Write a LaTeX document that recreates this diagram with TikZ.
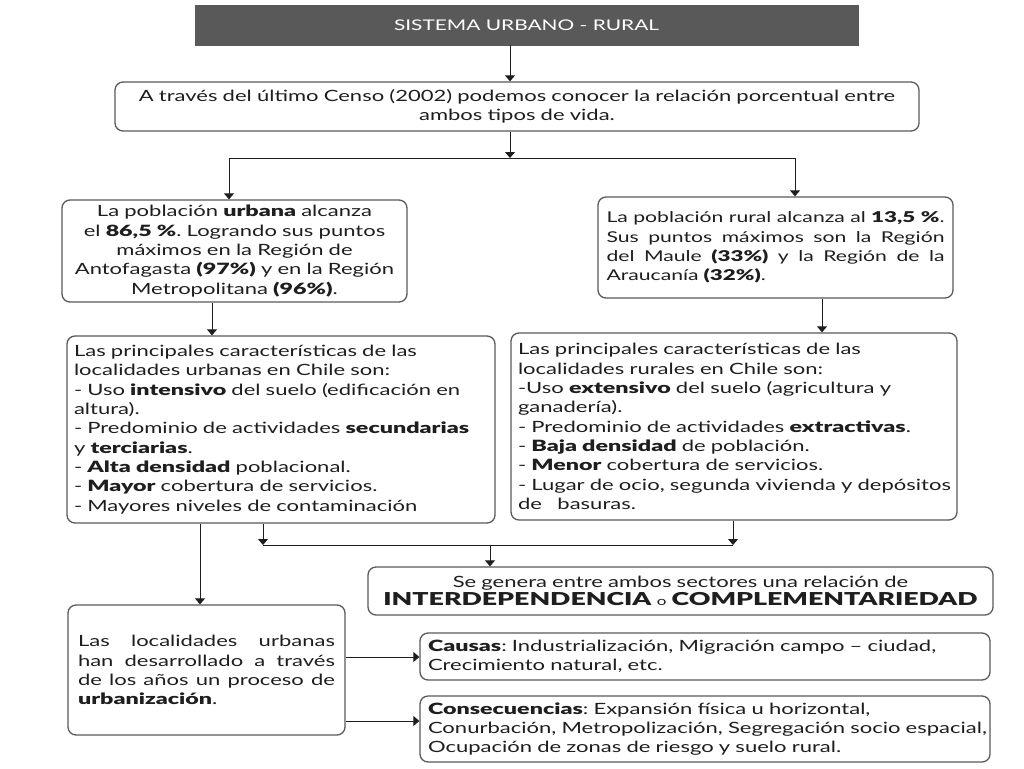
\documentclass[tikz,border=0pt]{standalone}
\usepackage{fontspec}
\setmainfont{Lato}[BoldFont={Lato Black}, UprightFeatures={FakeStretch=1.42}, BoldFeatures={FakeStretch=1.5}]
\usetikzlibrary{arrows.meta}
\frenchspacing
\definecolor{txt}{HTML}{1E1E1E}
\definecolor{bord}{HTML}{5A5A5A}
\definecolor{titlefill}{HTML}{595959}
\newcommand\jl[2]{\makebox[#1][s]{\spaceskip=0.3em plus 1fil\relax #2}}
\tikzset{
  box/.style={draw=bord, line width=1.3pt, rounded corners=8pt, fill=white, inner sep=0pt, text=txt,
    font=\fontsize{15.5}{19.3}\selectfont},
  titlebox/.style={draw=titlefill, fill=titlefill, text=white, inner sep=0pt,
    font=\fontsize{14.7}{18}\selectfont},
  conn/.style={draw=txt, line width=1pt},
  arr/.style={conn, -{Triangle[width=10pt,length=6pt]}}
}
\begin{document}
\begin{tikzpicture}[x=1pt,y=-1pt]
\useasboundingbox (0,0) rectangle (1024,768);
\fill[white] (0,0) rectangle (1024,768);

\node[titlebox, minimum width=663pt, minimum height=40pt] (title) at (526.5,25) {SISTEMA URBANO - RURAL};

\node[box, minimum width=804pt, minimum height=49pt, text width=790pt, align=center] (censo) at (517,106.5)
 {A través del último Censo (2002) podemos conocer la relación porcentual entre\\ ambos tipos de vida.};

\node[box, minimum width=345pt, minimum height=102pt, text width=335pt, align=center] (urb) at (234.5,251)
 {La población \textbf{urbana} alcanza\\ el \textbf{86,5 \%}. Logrando sus puntos\\ máximos en la Región de\\ Antofagasta \textbf{(97\%)} y en la Región\\ Metropolitana \textbf{(96\%)}.};

\node[box, minimum width=355pt, minimum height=101pt, text width=338pt, align=left,
      font=\fontsize{14.9}{19.3}\selectfont] (rur) at (775.5,247.5)
 {\jl{338pt}{La población rural alcanza al \textbf{13,5 \%}.}\\ \jl{338pt}{Sus puntos máximos son la Región}\\ \jl{338pt}{del Maule \textbf{(33\%)} y la Región de la}\\ Araucanía \textbf{(32\%)}.};

\node[box, minimum width=428pt, minimum height=187pt, text width=414pt, align=left] (curb) at (281,429.5)
 {Las principales características de las\\
  localidades urbanas en Chile son:\\
  - Uso \textbf{intensivo} del suelo (edificación en\\
  altura).\\
  - Predominio de actividades \textbf{secundarias}\\
  y \textbf{terciarias}.\\
  - \textbf{Alta densidad} poblacional.\\
  - \textbf{Mayor} cobertura de servicios.\\
  - Mayores niveles de contaminación};

\node[box, minimum width=446pt, minimum height=187pt, text width=432pt, align=left] (crur) at (734,426.5)
 {Las principales características de las\\
  localidades rurales en Chile son:\\
  -Uso \textbf{extensivo} del suelo (agricultura y\\
  ganadería).\\
  - Predominio de actividades \textbf{extractivas}.\\
  - \textbf{Baja densidad} de población.\\
  - \textbf{Menor} cobertura de servicios.\\
  \mbox{- Lugar de ocio, segunda vivienda y depósitos}\\
  de\ \ \ basuras.};

\node[box, minimum width=625pt, minimum height=48pt, text width=615pt, align=center] (inter) at (680.5,591)
 {Se genera entre ambos sectores una relación de\\[-1pt]
  {\fontsize{17.8}{20}\selectfont\textbf{INTERDEPENDENCIA} {\fontsize{12}{14}\selectfont o} \textbf{COMPLEMENTARIEDAD}}};

\node[box, minimum width=277pt, minimum height=130pt, text width=257pt, align=left] (proc) at (206.5,670)
 {\jl{257pt}{Las localidades urbanas}\\ \jl{257pt}{han desarrollado a través}\\ \jl{257pt}{de los años un proceso de}\\ \textbf{urbanización}.\\[12pt]};

\node[box, minimum width=570pt, minimum height=47pt, text width=554pt, align=left] (caus) at (705,656.5)
 {\mbox{\textbf{Causas}: Industrialización, Migración campo -- ciudad,}\\ Crecimiento natural, etc.};

\node[box, minimum width=570pt, minimum height=66pt, text width=554pt, align=left] (cons) at (705,729)
 {\textbf{Consecuencias}: Expansión física u horizontal,\\ \mbox{Conurbación, Metropolización, Segregación socio espacial,}\\ Ocupación de zonas de riesgo y suelo rural.};

% connectors
\coordinate (cA) at (510,0);
\draw[arr] (title.south -| cA) -- (censo.north -| cA);
\coordinate (j1) at (510,158);
\coordinate (j1l) at (229,158);
\coordinate (j1r) at (795,158);
\draw[arr] (censo.south -| j1) -- (j1);
\draw[conn] (j1l) -- (j1r);
\draw[arr] (j1l) -- (urb.north -| j1l);
\draw[arr] (j1r) -- (rur.north -| j1r);

\coordinate (cU) at (212,0);
\coordinate (cR) at (822,0);
\draw[arr] (urb.south -| cU) -- (curb.north -| cU);
\draw[arr] (rur.south -| cR) -- (crur.north -| cR);

\coordinate (j2l) at (263,545);
\coordinate (j2r) at (733,545);
\coordinate (j2m) at (490,545);
\draw[arr] (curb.south -| j2l) -- (j2l);
\draw[arr] (crur.south -| j2r) -- (j2r);
\draw[conn] (j2l) -- (j2r);
\draw[arr] (j2m) -- (inter.north -| j2m);

\coordinate (cP) at (200,0);
\draw[arr] (curb.south -| cP) -- (proc.north -| cP);

\coordinate (cC) at (0,657);
\coordinate (cS) at (0,721);
\draw[arr] (proc.east |- cC) -- (caus.west |- cC);
\draw[arr] (proc.east |- cS) -- (cons.west |- cS);
\end{tikzpicture}
\end{document}
